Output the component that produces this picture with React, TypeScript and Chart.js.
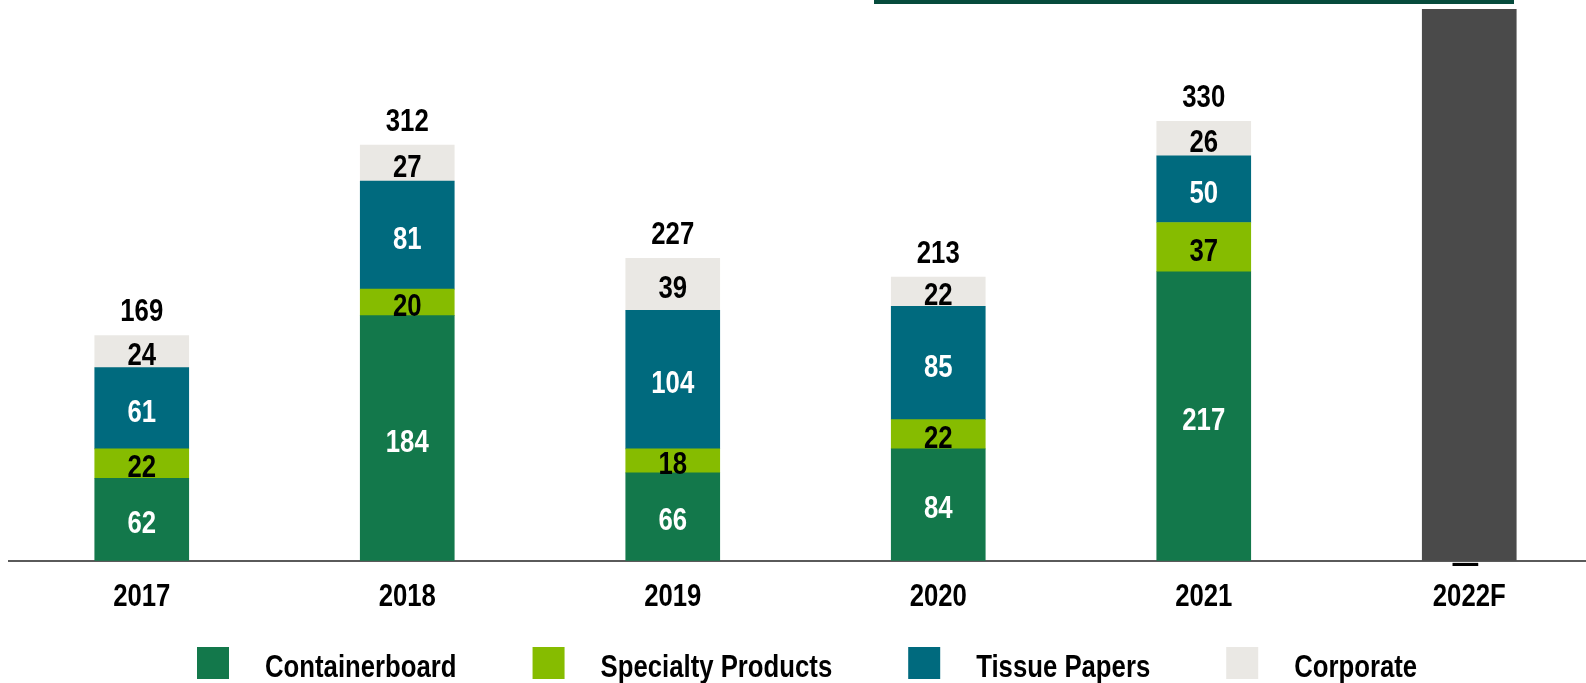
import React, { useEffect, useRef } from "react";
import { Chart, registerables } from "chart.js";

Chart.register(...registerables);

const categories = ["2017", "2018", "2019", "2020", "2021", "2022F"];
const containerboard = [62, 184, 66, 84, 217, null];
const specialty = [22, 20, 18, 22, 37, null];
const tissue = [61, 81, 104, 85, 50, null];
const corporate = [24, 27, 39, 22, 26, null];
const forecast = [null, null, null, null, null, 414];
const forecastLabel = "—";

const seriesNames = ["Containerboard", "Specialty Products", "Tissue Papers", "Corporate"];
const seriesColors = ["#13784B", "#86BC00", "#006A7E", "#EAE8E4"];
const labelColors = ["#FFFFFF", "#000000", "#FFFFFF", "#000000"];
const forecastColor = "#4A4A4A";

const FONT = '"Liberation Sans", Arial, sans-serif';
const FS = 31;
const SQUEEZE = 0.83;

function narrowText(ctx: any, text: string, x: number, y: number, align: "center" | "left") {
  ctx.save();
  ctx.translate(x, y);
  ctx.scale(SQUEEZE, 1);
  ctx.textAlign = align;
  ctx.fillText(text, 0, 0);
  ctx.restore();
}

const labelPlugin = {
  id: "segLabels",
  afterDatasetsDraw(chart: any) {
    const ctx = chart.ctx;
    ctx.save();
    ctx.font = `bold ${FS}px ${FONT}`;
    ctx.textBaseline = "middle";
    const n = categories.length;
    const tops: number[] = new Array(n).fill(Infinity);
    const totals: number[] = new Array(n).fill(0);
    for (let d = 0; d < 4; d++) {
      const meta = chart.getDatasetMeta(d);
      meta.data.forEach((el: any, i: number) => {
        const v = chart.data.datasets[d].data[i];
        if (v == null) return;
        totals[i] += v;
        const y = (el.y + el.base) / 2;
        ctx.fillStyle = labelColors[d];
        narrowText(ctx, String(v), el.x, y + 5, "center");
        tops[i] = Math.min(tops[i], el.y);
      });
    }
    const meta0 = chart.getDatasetMeta(0);
    meta0.data.forEach((el: any, i: number) => {
      if (tops[i] === Infinity) return;
      ctx.fillStyle = "#000000";
      narrowText(ctx, String(totals[i]), el.x, tops[i] - 23, "center");
    });
    const metaF = chart.getDatasetMeta(4);
    metaF.data.forEach((el: any, i: number) => {
      if (forecast[i] == null) return;
      ctx.fillStyle = "#000000";
      narrowText(ctx, forecastLabel, el.x - 4, el.base + 4, "center");
    });
    // x tick labels
    const xs = chart.scales.x;
    ctx.fillStyle = "#000000";
    categories.forEach((c, i) => {
      narrowText(ctx, c, xs.getPixelForTick(i), xs.top + 37, "center");
    });
    // legend
    const box = 32;
    let lx = 197;
    const ly = chart.height - 36;
    seriesNames.forEach((name, i) => {
      ctx.fillStyle = seriesColors[i];
      ctx.fillRect(lx, ly, box, box);
      ctx.fillStyle = "#000000";
      const tx = lx + box + 36;
      narrowText(ctx, name, tx, ly + box / 2 + 5, "left");
      const w = ctx.measureText(name).width * SQUEEZE;
      lx = tx + w + 76;
    });
    ctx.restore();
  },
};

export default function App() {
  const ref = useRef<HTMLCanvasElement | null>(null);
  useEffect(() => {
    if (!ref.current) return;
    const data = [containerboard, specialty, tissue, corporate];
    const chart = new Chart(ref.current, {
      type: "bar",
      data: {
        labels: categories,
        datasets: [
          ...data.map((arr, i) => ({
            label: seriesNames[i],
            data: arr,
            backgroundColor: seriesColors[i],
            barThickness: 94,
            borderWidth: 0,
          })),
          {
            label: "Forecast",
            data: forecast,
            backgroundColor: forecastColor,
            barThickness: 94,
            borderWidth: 0,
          },
        ],
      },
      options: {
        responsive: false,
        animation: false,
        layout: { padding: { left: 9, right: 0, top: 0, bottom: 51 } },
        plugins: {
          legend: { display: false },
          tooltip: { enabled: false },
        },
        scales: {
          x: {
            stacked: true,
            grid: { display: false, drawTicks: false },
            border: { display: true, color: "#5A5A5A", width: 2 },
            ticks: {
              color: "rgba(0,0,0,0)",
              padding: 17,
              font: { family: FONT, size: FS, weight: "bold" },
            },
          },
          y: {
            stacked: true,
            display: false,
            min: 0,
            max: 421,
          },
        },
      },
      plugins: [labelPlugin],
    });
    return () => chart.destroy();
  }, []);

  return (
    <div
      style={{
        position: "absolute",
        left: 0,
        top: 0,
        width: 1586,
        height: 683,
        overflow: "hidden",
        background: "#FFFFFF",
      }}
    >
      <div style={{ position: "absolute", left: 874, top: 0, width: 640, height: 4, background: "#064B3C", zIndex: 1 }} />
      <canvas ref={ref} width={1602} height={683} style={{ position: "absolute", left: 0, top: 0 }} />
    </div>
  );
}
